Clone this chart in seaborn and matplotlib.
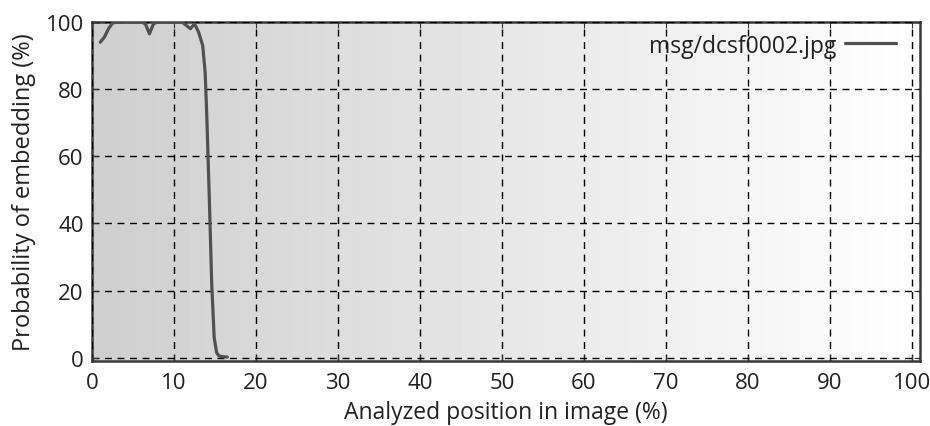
import numpy as np
import pandas as pd
import matplotlib
matplotlib.use("Agg")
import matplotlib.pyplot as plt
import seaborn as sns

# analyzed position (%) vs probability of embedding (%)
position = [1, 1.5, 2, 2.5, 3, 4, 5, 6, 6.5, 7, 7.5, 8, 9, 10, 11, 11.5, 12,
            12.5, 13, 13.5, 13.8, 14, 14.3, 14.6, 14.9, 15.2, 15.5, 16, 16.5]
probability = [94, 95.5, 98, 99.7, 100, 100, 100, 100, 99.5, 96.5, 99.5, 100,
               100, 100, 100, 99, 98, 99.5, 97, 93, 85, 72, 48, 22, 6, 1.5,
               0.5, 0.3, 0.2]
series_name = "msg/dcsf0002.jpg"

df = pd.DataFrame({"pos": position, "prob": probability, "file": series_name})

sns.set_style("ticks")
plt.rcParams["font.family"] = ["Open Sans", "DejaVu Sans"]

fig = plt.figure(figsize=(9.3, 4.27), dpi=100)
ax = fig.add_axes([0.099, 0.152, 0.890, 0.794])

# gray-to-white gradient background
grad = np.linspace(0.81, 1.0, 256).reshape(1, -1)
ax.imshow(grad, cmap="gray", vmin=0, vmax=1, aspect="auto",
          extent=[0, 1, 0, 1], transform=ax.transAxes, zorder=0)

sns.lineplot(data=df, x="pos", y="prob", hue="file", palette=["#505050"],
             linewidth=2.3, ax=ax, zorder=3)

ax.set_xlim(0, 101)
ax.set_ylim(-1, 100)
ax.set_xticks(range(0, 101, 10))
ax.set_yticks(range(0, 101, 20))
ax.grid(True, color="black", linestyle=(0, (5, 4)), linewidth=1.0, zorder=1)
ax.set_axisbelow(False)
ax.tick_params(direction="in", top=True, right=True, labelsize=16,
               length=4, color="#333333", pad=6, labelcolor="#222222")
ax.tick_params(axis="x", pad=8)
for s in ax.spines.values():
    s.set_color("#3a3a3a")
    s.set_linewidth(1.8)

ax.set_xlabel("Analyzed position in image (%)", fontsize=16.5, labelpad=5,
              color="#222222")
ax.set_ylabel("Probability of embedding (%)", fontsize=17, labelpad=7,
              color="#222222")

leg = ax.legend(loc="upper right", bbox_to_anchor=(0.985, 1.0),
                frameon=False, markerfirst=False, fontsize=16.5,
                handlelength=2.2, borderaxespad=0.1, handletextpad=0.4)
for t in leg.get_texts():
    t.set_color("#222222")

fig.savefig("out.png", dpi=100)
